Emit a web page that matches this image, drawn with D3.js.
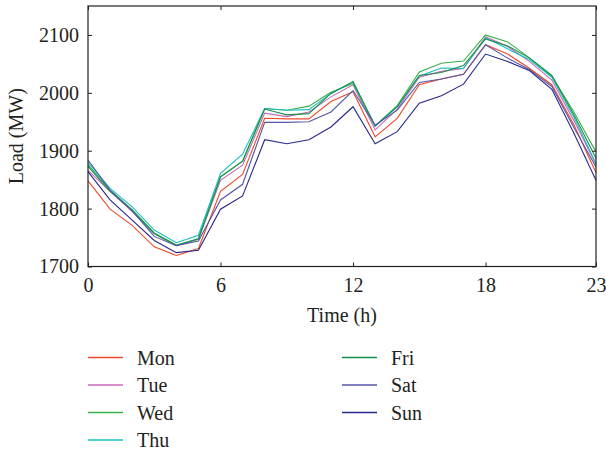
<!DOCTYPE html>
<html>
<head>
<meta charset="utf-8">
<script src="https://cdn.jsdelivr.net/npm/d3@7"></script>
<style>
  body { margin: 0; background: #fff; }
  svg text { font-family: "Liberation Serif", "DejaVu Serif", serif; fill: #231f20; }
</style>
</head>
<body>
<div id="chart"></div>
<script>
const hours = d3.range(0, 24);
const xTicks = [0, 6, 12, 18, 23];
const yTicks = [1700, 1800, 1900, 2000, 2100];
const days = ['Mon', 'Tue', 'Wed', 'Thu', 'Fri', 'Sat', 'Sun'];
const colors = ['#ee4a2c', '#c86ab8', '#3cb04a', '#19bfbf', '#15904c', '#5656a8', '#27288c'];

const mon = [1848, 1799, 1771, 1734, 1719, 1731, 1830, 1859, 1956, 1955, 1955, 1985, 2002, 1924, 1956, 2014, 2024, 2032, 2083, 2067, 2042, 2014, 1945, 1862];
const tue = [1866, 1830, 1795, 1757, 1737, 1747, 1849, 1875, 1965, 1959, 1967, 1993, 2014, 1936, 1972, 2027, 2037, 2042, 2097, 2080, 2054, 2022, 1952, 1876];
const wed = [1876, 1832, 1798, 1758, 1737, 1748, 1855, 1882, 1973, 1970, 1977, 2001, 2016, 1943, 1978, 2036, 2051, 2055, 2100, 2088, 2060, 2029, 1967, 1898];
const thu = [1880, 1835, 1803, 1763, 1741, 1754, 1861, 1894, 1973, 1970, 1971, 1999, 2019, 1942, 1976, 2029, 2043, 2042, 2095, 2076, 2057, 2027, 1958, 1878];
const fri = [1873, 1830, 1797, 1757, 1736, 1748, 1855, 1882, 1972, 1962, 1964, 1999, 2019, 1943, 1976, 2030, 2035, 2047, 2093, 2081, 2060, 2030, 1962, 1887];
const sat = [1884, 1832, 1796, 1752, 1736, 1744, 1815, 1842, 1949, 1949, 1950, 1967, 2004, 1944, 1970, 2018, 2024, 2032, 2083, 2060, 2040, 2011, 1940, 1872];
const sun = [1864, 1815, 1780, 1745, 1724, 1728, 1799, 1822, 1919, 1912, 1919, 1941, 1976, 1912, 1933, 1982, 1995, 2015, 2067, 2054, 2038, 2006, 1930, 1849];
const series = [mon, tue, wed, thu, fri, sat, sun];

const W = 606, H = 451;
const plotL = 88, plotR = 596, plotT = 6, plotB = 266.5;
const fontFam = '"Liberation Serif", "DejaVu Serif", serif';

const svg = d3.select('#chart').append('svg')
  .attr('width', W).attr('height', H)
  .attr('font-family', fontFam);

const x = d3.scaleLinear().domain([0, 23]).range([plotL, plotR]);
const y = d3.scaleLinear().domain([1700, 2150]).range([plotB, plotT]);

// lines
const line = d3.line().x((d, i) => x(hours[i])).y(d => y(d));
svg.append('g').selectAll('path')
  .data(series)
  .enter().append('path')
  .attr('d', d => line(d))
  .attr('fill', 'none')
  .attr('stroke', (d, i) => colors[i])
  .attr('stroke-width', 1.1)
  .attr('stroke-linejoin', 'miter');

// axes with inward ticks on all sides
const tickLen = 4;
const fmt = d3.format('d');
svg.append('g')
  .attr('transform', `translate(0,${plotB})`)
  .call(d3.axisBottom(x).tickValues(xTicks).tickFormat(fmt).tickSizeInner(-tickLen).tickSizeOuter(0).tickPadding(10))
  .call(g => g.selectAll('text').attr('font-size', 20).attr('dy', '0.75em'));
svg.append('g')
  .attr('transform', `translate(0,${plotT})`)
  .call(d3.axisTop(x).tickValues(xTicks).tickSizeInner(-tickLen).tickSizeOuter(0).tickFormat(''));
svg.append('g')
  .attr('transform', `translate(${plotL},0)`)
  .call(d3.axisLeft(y).tickValues(yTicks).tickFormat(fmt).tickSizeInner(-tickLen).tickSizeOuter(0).tickPadding(9))
  .call(g => g.selectAll('text').attr('font-size', 20));
svg.append('g')
  .attr('transform', `translate(${plotR},0)`)
  .call(d3.axisRight(y).tickValues(yTicks).tickSizeInner(-tickLen).tickSizeOuter(0).tickFormat(''));

svg.selectAll('.domain').remove();
svg.selectAll('.tick line').attr('stroke', '#231f20');
svg.selectAll('g').attr('font-family', fontFam);
svg.append('rect')
  .attr('x', plotL).attr('y', plotT)
  .attr('width', plotR - plotL).attr('height', plotB - plotT)
  .attr('fill', 'none').attr('stroke', '#231f20').attr('stroke-width', 1.2);

// axis titles
svg.append('text')
  .attr('x', (plotL + plotR) / 2).attr('y', 322)
  .attr('text-anchor', 'middle').attr('font-size', 20)
  .text('Time (h)');
svg.append('text')
  .attr('transform', `translate(23,${(plotT + plotB) / 2}) rotate(-90)`)
  .attr('text-anchor', 'middle').attr('font-size', 20)
  .text('Load (MW)');

// legend
const legend = svg.append('g').selectAll('g')
  .data(days)
  .enter().append('g')
  .attr('transform', (d, i) => {
    const col = i < 4 ? 0 : 1;
    const row = i < 4 ? i : i - 4;
    return `translate(${col ? 342 : 88},${357.5 + row * 27.5})`;
  });
legend.append('line')
  .attr('x1', 0).attr('x2', 35)
  .attr('stroke', (d, i) => colors[i])
  .attr('stroke-width', 1.3);
legend.append('text')
  .attr('x', 49).attr('y', 7)
  .attr('font-size', 20)
  .text(d => d);
</script>
</body>
</html>
